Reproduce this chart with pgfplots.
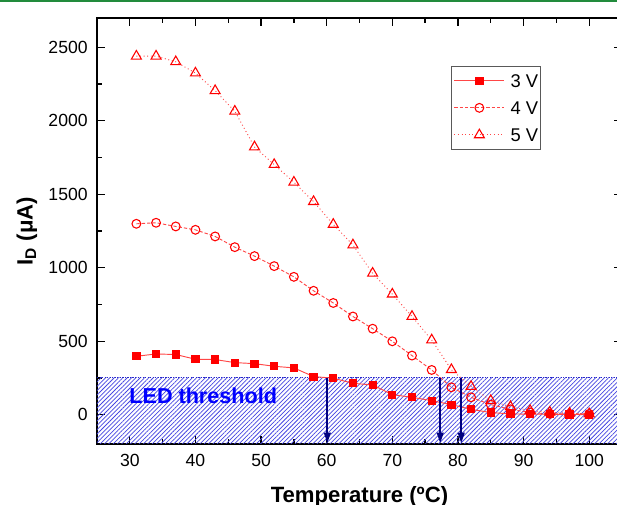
\documentclass[border=0pt]{standalone}
\usepackage{fontspec}
\setmainfont{Liberation Sans}
\usepackage{pgfplots}
\pgfplotsset{compat=1.18}
\usetikzlibrary{patterns.meta, arrows.meta}

\definecolor{hatchblue}{RGB}{70,70,225}
\definecolor{edgeblue}{RGB}{40,40,200}
\definecolor{arrownavy}{RGB}{0,0,128}
\definecolor{rulegreen}{RGB}{34,139,60}
\definecolor{curvered}{RGB}{255,0,0}
\definecolor{linered}{RGB}{255,70,70}

% drain current versus temperature, three gate voltages
\pgfplotstableread{
T    v3    v4    v5
31   397   1299  2440
34   413   1306  2440
37   409   1281  2402
40   377   1258  2325
43   375   1213  2205
46   354   1140  2065
49   347   1079  1822
52   329   1011  1702
55   318    938  1582
58   259    843  1450
61   248    760  1295
64   213    668  1155
67   202    585   962
70   136    499   820
73   118    402   668
76    95    304   508
79    68    186   306
82    36    118   191
85    14     68    95
88     5     36    54
91     3     14    27
94     2      5    16
97     1      5     9
100    0      5     5
}\idata

\begin{document}
\begin{tikzpicture}
\begin{axis}[
  name=ax,
  scale only axis,
  width=393.75pt, height=319.5pt,
  xmin=25, xmax=105, ymin=-200, ymax=2700,
  xtick={30,40,...,100}, ytick={0,500,...,2500},
  minor x tick num=1, minor y tick num=1,
  tick align=inside,
  major tick length=6pt, minor tick length=3.5pt,
  axis line style={line width=1.2pt},
  tick style={black, line width=1pt},
  /pgf/number format/assume math mode=true,
  /pgf/number format/1000 sep={},
  ticklabel style={font=\fontsize{13.2}{15}\selectfont},
  yticklabel style={xshift=-3.5pt},
  xticklabel style={yshift=-4.5pt},
  xlabel={Temperature (ºC)},
  ylabel={I\textsubscript{D} (μA)},
  label style={font=\bfseries\fontsize{16.6}{19}\selectfont},
  xlabel style={at={(axis description cs:0.5,-0.1233)}, anchor=center},
  ylabel style={at={(axis description cs:-0.1333,0.5)}, anchor=center},
  legend cell align=left,
  legend image code/.code={\draw[mark repeat=2, mark phase=2, #1] plot coordinates {(0pt,0pt) (18.75pt,0pt) (37.5pt,0pt)};},
  legend style={at={(axis description cs:0.6737,0.888)}, anchor=north west,
    draw=black!65, line width=0.8pt, font=\fontsize{13.8}{16}\selectfont,
    nodes={inner sep=0pt, text height=9.8pt, text depth=0pt},
    inner xsep=2pt, inner ysep=6pt, row sep=10.5pt, column sep=4.3pt},
]

% hatched band below the LED threshold current
\fill[pattern={Lines[angle=45, distance=2.3pt, line width=0.55pt]}, pattern color=hatchblue]
  (axis cs:25,-200) rectangle (axis cs:105,250);
\draw[edgeblue, densely dotted, line width=0.9pt] (axis cs:25,250) -- (axis cs:105,250);
\node[anchor=west, inner sep=0pt, text=blue, font=\bfseries\fontsize{16.2}{19}\selectfont]
  at (axis cs:29.9,129) {LED threshold};

\addplot[linered, line width=0.7pt, mark=square*, mark size=2.7pt,
  mark options={solid, draw=curvered, fill=curvered}]
  table[x=T, y=v3] {\idata};
\addlegendentry{3 V\hspace{4pt}}
\addplot[linered, line width=0.7pt, dash pattern=on 2.5pt off 1.5pt, mark=o, mark size=3.3pt,
  mark options={solid, draw=curvered, fill=white, line width=0.8pt}]
  table[x=T, y=v4] {\idata};
\addlegendentry{4 V\hspace{4pt}}
\addplot[linered, line width=0.7pt, dotted, mark=triangle, mark size=4.3pt,
  mark options={solid, draw=curvered, fill=white, line width=0.8pt}]
  table[x=T, y=v5] {\idata};
\addlegendentry{5 V\hspace{4pt}}

% temperatures at which each curve drops below the threshold
\foreach \tx in {60.1, 77.3, 80.5} {
  \edef\temp{\noexpand\draw[arrownavy, line width=1.5pt, -{Triangle[length=8pt, width=5pt]}]
    (axis cs:\tx,250) -- (axis cs:\tx,-195);}
  \temp
}
\end{axis}
\pgfresetboundingbox
\path[use as bounding box] ([xshift=-72.75pt, yshift=-45.75pt]ax.south west)
  rectangle ([xshift=-3.75pt, yshift=13.5pt]ax.north east);
\draw[rulegreen, line width=1.2pt] ([xshift=-72.75pt, yshift=12.9pt]ax.north west)
  -- ([xshift=-3.75pt, yshift=12.9pt]ax.north east);
\end{tikzpicture}
\end{document}
